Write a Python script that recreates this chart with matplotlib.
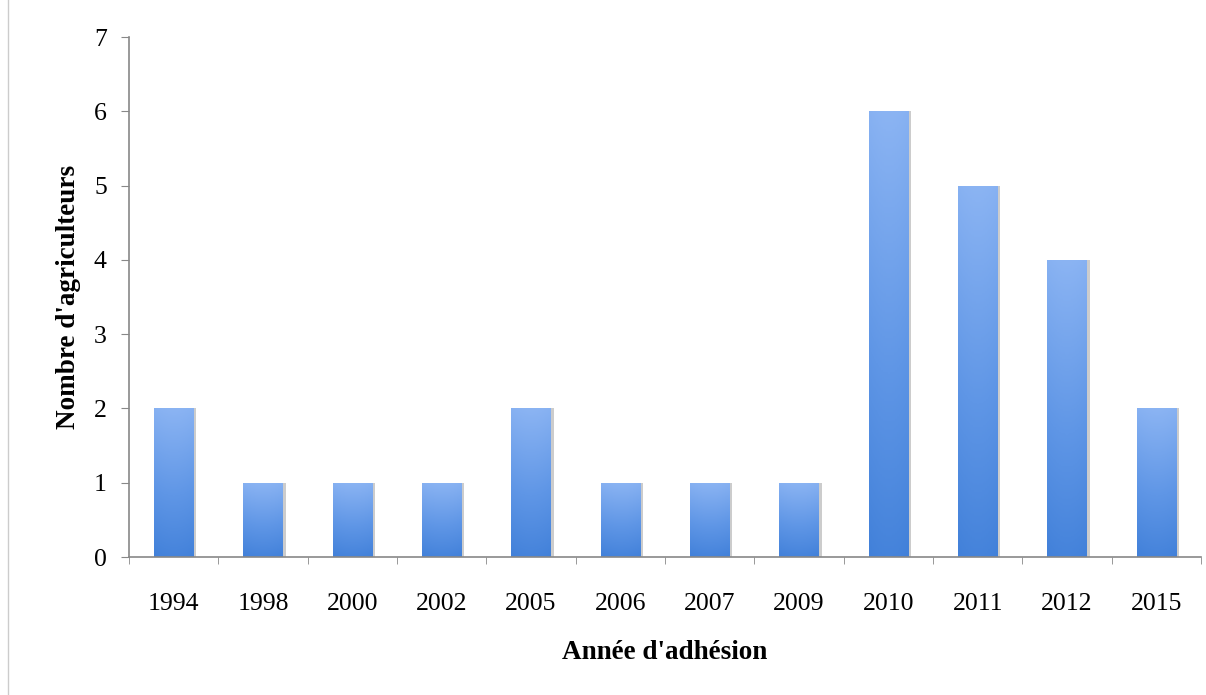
import matplotlib
matplotlib.use("Agg")
import matplotlib.pyplot as plt
import numpy as np
from matplotlib.colors import LinearSegmentedColormap

years = ["1994", "1998", "2000", "2002", "2005", "2006", "2007", "2009",
         "2010", "2011", "2012", "2015"]
farmers = [2, 1, 1, 1, 2, 1, 1, 1, 6, 5, 4, 2]

plt.rcParams["font.family"] = ["Liberation Serif", "DejaVu Serif"]

fig = plt.figure(figsize=(12.06, 6.95), dpi=100)
ax = fig.add_axes([129 / 1206, 138 / 695, 1072 / 1206, 520 / 695])

x = np.arange(len(years))
width = 0.44

# soft shadow on the right side of each bar
ax.bar(x + 0.035, farmers, width=width, color="#6f6f6f", alpha=0.35, zorder=1)
bars = ax.bar(x, farmers, width=width, color="none", zorder=2)

# vertical + horizontal gradient inside each bar
cmap = LinearSegmentedColormap.from_list("bluegrad", ["#3a7bd6", "#5f96e6", "#8bb4f3"])
ny, nx = 200, 40
vert = np.linspace(0, 1, ny)[:, None]
horiz = 1 - 0.35 * np.abs(np.linspace(-1, 1, nx))[None, :] ** 2
grad = np.clip(vert * 0.85 + 0.15 * horiz, 0, 1)
for b in bars:
    x0, y0 = b.get_x(), b.get_y()
    w, h = b.get_width(), b.get_height()
    im = ax.imshow(grad, cmap=cmap, extent=[x0, x0 + w, y0, y0 + h],
                   origin="lower", aspect="auto", zorder=2, vmin=0, vmax=1)
    im.set_clip_path(b)

ax.set_xlim(-0.5, len(years) - 0.5)
ax.set_ylim(0, 7)
ax.set_yticks(range(8))
ax.set_xticks(x)
ax.set_xticklabels(years)
ax.set_xticks(np.arange(len(years) + 1) - 0.5, minor=True)
ax.tick_params(axis="x", which="major", length=0, pad=26, labelsize=18.5)
ax.tick_params(axis="x", which="minor", length=5, color="#888888", direction="out")
ax.tick_params(axis="y", length=6, color="#888888", labelsize=18.5, pad=10)

for s in ["top", "right"]:
    ax.spines[s].set_visible(False)
for s in ["left", "bottom"]:
    ax.spines[s].set_color("#888888")
    ax.spines[s].set_linewidth(1.2)

ax.set_xlabel("Année d'adhésion", fontsize=19.5, fontweight="bold", labelpad=18)
ax.set_ylabel("Nombre d'agriculteurs", fontsize=19.5, fontweight="bold", labelpad=9)

# thin frame line at the far left of the picture
fig.add_artist(plt.Line2D([8 / 1206, 8 / 1206], [0, 1], color="#cccccc", lw=1))

fig.savefig("out.png", dpi=100)
